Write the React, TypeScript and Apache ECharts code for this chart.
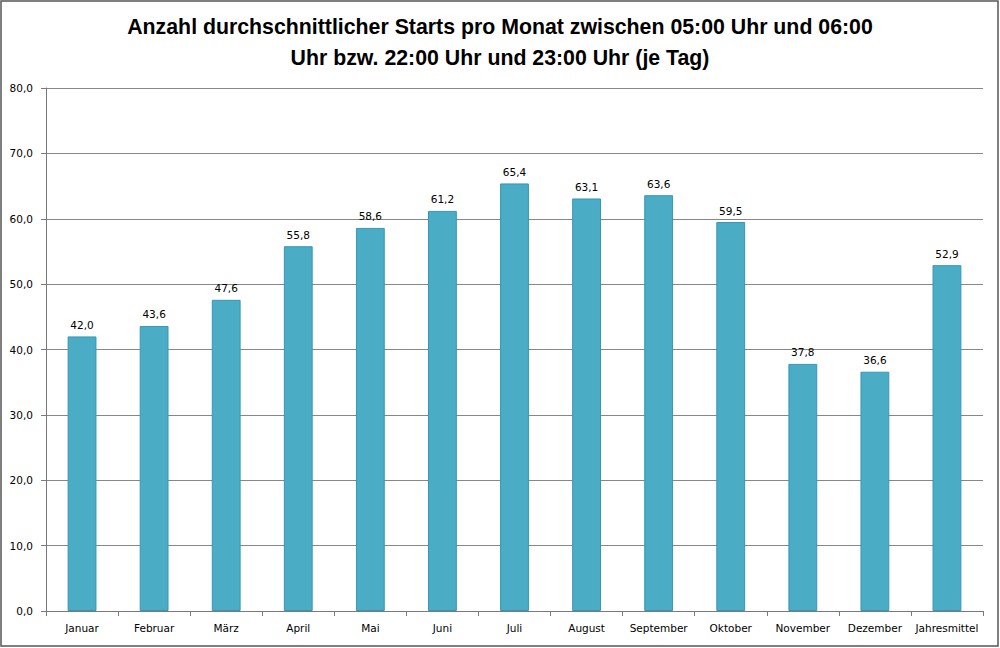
import React, { useEffect, useRef } from "react";
import * as echarts from "echarts";

const categories = ["Januar", "Februar", "März", "April", "Mai", "Juni", "Juli", "August", "September", "Oktober", "November", "Dezember", "Jahresmittel"];
const values = [42.0, 43.6, 47.6, 55.8, 58.6, 61.2, 65.4, 63.1, 63.6, 59.5, 37.8, 36.6, 52.9];
const titleLines = ["Anzahl durchschnittlicher Starts pro Monat zwischen 05:00 Uhr und 06:00", "Uhr bzw. 22:00 Uhr und 23:00 Uhr (je Tag)"];

const fmt = (v: number) => v.toFixed(1).replace(".", ",");

export default function App() {
  const ref = useRef<HTMLDivElement>(null);
  useEffect(() => {
    if (!ref.current) return;
    const chart = echarts.init(ref.current, null, { renderer: "svg" });
    chart.setOption({
      animation: false,
      backgroundColor: "#ffffff",
      title: {
        text: titleLines.join("\n"),
        left: "center",
        top: 6,
        textStyle: {
          fontFamily: "Liberation Sans",
          fontWeight: "bold",
          fontSize: 21.3,
          lineHeight: 31,
          color: "#000000",
        },
      },
      graphic: [
        {
          type: "rect",
          shape: { x: 1, y: 1, width: 997, height: 645 },
          style: { fill: "none", stroke: "#555555", lineWidth: 1.5 },
          silent: true,
        },
      ],
      grid: { left: 46, right: 17, top: 88, bottom: 37, containLabel: false },
      xAxis: {
        type: "category",
        data: categories,
        boundaryGap: true,
        axisLine: { lineStyle: { color: "#7a7a7a", width: 1 } },
        axisTick: { show: true, length: 5, alignWithLabel: false, lineStyle: { color: "#7a7a7a" } },
        axisLabel: { fontFamily: "DejaVu Sans", fontSize: 10.5, color: "#000000", margin: 11, interval: 0 },
      },
      yAxis: {
        type: "value",
        min: 0,
        max: 80,
        interval: 10,
        axisLine: { show: true, lineStyle: { color: "#7a7a7a", width: 1 } },
        axisTick: { show: true, length: 5, lineStyle: { color: "#7a7a7a" } },
        axisLabel: { formatter: (v: number) => fmt(v), fontFamily: "DejaVu Sans", fontSize: 10.5, color: "#000000", margin: 13 },
        splitLine: { show: true, lineStyle: { color: "#878787", width: 1 } },
      },
      series: [
        {
          type: "bar",
          data: values,
          barWidth: "40%",
          itemStyle: { color: "#4BACC6", borderColor: "#3597b5", borderWidth: 1 },
          label: {
            show: true,
            position: "top",
            distance: 6,
            formatter: (p: any) => fmt(p.value),
            fontFamily: "DejaVu Sans",
            fontSize: 10.5,
            color: "#000000",
          },
        },
      ],
    });
    return () => chart.dispose();
  }, []);
  return (
    <div
      ref={ref}
      style={{ position: "absolute", left: 0, top: 0, width: 1000, height: 648 }}
    />
  );
}
